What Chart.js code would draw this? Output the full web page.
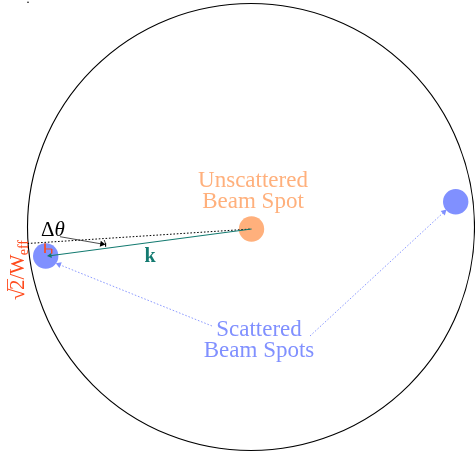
<!DOCTYPE html>
<html>
<head>
<meta charset="utf-8">
<script src="https://cdn.jsdelivr.net/npm/chart.js@4"></script>
<style>
  html, body { margin: 0; padding: 0; background: #fff; }
  canvas { display: block; }
</style>
</head>
<body>
<canvas id="diagram" width="475" height="456"></canvas>
<script>
// diagram coordinates (x to the right, y downwards, same units as the picture)
const circleCenter = [251, 227];

const spotX = [251.5, 45.7, 455.7];
const spotY = [229, 256, 201.7];
const spotKind = ['unscattered', 'scattered', 'scattered'];

const dottedX = [27.5, 251.5];
const dottedY = [243.5, 229];

const kX = [251.5, 50];
const kY = [229, 255.7];

const dthetaX = [60, 102];
const dthetaY = [236.7, 244];
const arcX = [104.2, 105.3, 105.6];
const arcY = [240, 243, 246.5];

const perpX = [45, 45];
const perpY = [243.5, 253];
const cornerX = [45, 51.7, 51.7];
const cornerY = [249, 249, 253.5];

const leftPointerX = [212, 59];
const leftPointerY = [326, 264.5];
const rightPointerX = [310, 444];
const rightPointerY = [336, 212];

const labels = [
  { text: ['Unscattered', 'Beam Spot'], x: 253, y: 187, color: '#ffb07c' },
  { text: ['Scattered', 'Beam Spots'], x: 259, y: 336, color: '#8090ff' }
];

const BLUE = '#8090ff';
const ORANGE = '#ffb07c';
const TEAL = '#137a70';
const RED = '#ff4a1c';
const SERIF = '"Liberation Serif", "DejaVu Serif", serif';

function pts(xs, ys) {
  return xs.map((x, i) => ({ x: x, y: ys[i] }));
}

// arrowhead rotation from the last segment (scales are 1:1 with pixels)
function headRotation(xs, ys) {
  const n = xs.length;
  const dx = xs[n - 1] - xs[n - 2];
  const dy = ys[n - 1] - ys[n - 2];
  return Math.atan2(dx, -dy) * 180 / Math.PI;
}

function line(xs, ys, color, width, dash, head) {
  const n = xs.length;
  return {
    data: pts(xs, ys),
    showLine: true,
    borderColor: color,
    backgroundColor: color,
    borderWidth: width,
    borderDash: dash || [],
    tension: 0,
    clip: false,
    pointStyle: 'triangle',
    pointRadius: xs.map((_, i) => (head && i === n - 1 ? head : 0)),
    pointBorderWidth: 0,
    pointRotation: headRotation(xs, ys),
    order: 1
  };
}

const textPlugin = {
  id: 'diagramText',
  afterDatasetsDraw(chart) {
    const ctx = chart.ctx;
    const sx = chart.scales.x;
    const sy = chart.scales.y;
    ctx.save();
    ctx.textBaseline = 'alphabetic';

    // beam spot captions
    ctx.textAlign = 'center';
    ctx.font = '23px ' + SERIF;
    labels.forEach((l) => {
      ctx.fillStyle = l.color;
      l.text.forEach((t, i) => {
        ctx.fillText(t, sx.getPixelForValue(l.x), sy.getPixelForValue(l.y) + i * 21);
      });
    });

    // k
    ctx.fillStyle = TEAL;
    ctx.font = 'bold 20px ' + SERIF;
    ctx.fillText('k', sx.getPixelForValue(150), sy.getPixelForValue(262));

    // Δθ
    ctx.fillStyle = '#000';
    ctx.textAlign = 'left';
    ctx.font = '21px ' + SERIF;
    const dx = sx.getPixelForValue(41);
    const dy = sy.getPixelForValue(236);
    ctx.fillText('Δ', dx, dy);
    const wD = ctx.measureText('Δ').width;
    ctx.font = 'italic 21px ' + SERIF;
    ctx.fillText('θ', dx + wD, dy);

    // √2 / W_eff, rotated along the left edge
    ctx.translate(sx.getPixelForValue(24), sy.getPixelForValue(300));
    ctx.rotate(-Math.PI / 2);
    ctx.fillStyle = RED;
    ctx.strokeStyle = RED;
    ctx.font = '21px ' + SERIF;
    let u = 0;
    ctx.fillText('√', u, 0);
    u += ctx.measureText('√').width - 1.5;
    const w2 = ctx.measureText('2').width;
    ctx.fillText('2', u, 0);
    ctx.lineWidth = 0.9;
    ctx.beginPath();
    ctx.moveTo(u - 1, -16.5);
    ctx.lineTo(u + w2 + 0.5, -16.5);
    ctx.stroke();
    u += w2;
    ctx.fillText('/', u, 0);
    u += ctx.measureText('/').width - 0.5;
    ctx.fillText('W', u, 0);
    u += ctx.measureText('W').width - 1;
    ctx.font = '14px ' + SERIF;
    ctx.fillText('eff', u, 3.5);
    ctx.restore();
  }
};

new Chart(document.getElementById('diagram'), {
  type: 'scatter',
  data: {
    datasets: [
      line(kX, kY, TEAL, 1.1, null, 3),
      line(dottedX, dottedY, '#000', 1, [1.6, 1.8]),
      line(dthetaX, dthetaY, '#000', 0.7, null, 3.5),
      line(arcX, arcY, '#000', 0.8),
      line(perpX, perpY, RED, 0.9),
      line(cornerX, cornerY, RED, 0.9),
      line(leftPointerX, leftPointerY, BLUE, 0.9, [1.6, 1.8], 3.5),
      line(rightPointerX, rightPointerY, BLUE, 0.9, [1.6, 1.8], 3.5),
      {
        data: pts(spotX, spotY),
        pointRadius: 12.7,
        pointBackgroundColor: spotKind.map((k) => (k === 'unscattered' ? ORANGE : BLUE)),
        pointBorderWidth: 0,
        clip: false,
        order: 2
      },
      {
        data: [{ x: 28, y: 2.3 }],
        pointRadius: 0.8,
        pointBackgroundColor: '#000',
        pointBorderWidth: 0,
        clip: false,
        order: 3
      },
      {
        data: [{ x: circleCenter[0], y: circleCenter[1] }],
        pointRadius: 223.5,
        pointBackgroundColor: 'rgba(0,0,0,0)',
        pointBorderColor: '#000',
        pointBorderWidth: 1.1,
        clip: false,
        order: 3
      }
    ]
  },
  options: {
    responsive: false,
    animation: false,
    events: [],
    devicePixelRatio: 1,
    layout: { padding: 0, autoPadding: false },
    plugins: { legend: { display: false }, tooltip: { enabled: false } },
    scales: {
      x: { type: 'linear', min: 0, max: 475, display: false },
      y: { type: 'linear', min: 0, max: 456, reverse: true, display: false }
    }
  },
  plugins: [textPlugin]
});
</script>
</body>
</html>
